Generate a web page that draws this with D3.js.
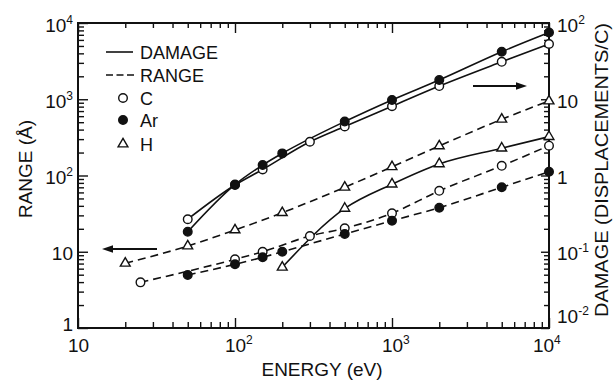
<!DOCTYPE html>
<html>
<head>
<meta charset="utf-8">
<script src="https://cdn.jsdelivr.net/npm/d3@7"></script>
<style>
  body { margin: 0; background: #fff; }
  text { font-family: "Liberation Sans", Arial, sans-serif; fill: #111; }
</style>
</head>
<body>
<svg id="chart" width="613" height="381"></svg>
<script>
// ranges (Angstrom, left axis) vs energy (eV)
const cRangeE = [25, 100, 150, 300, 500, 1000, 2000, 5000, 10000]
const cRange = [3.97, 7.96, 10.0, 16.1, 20.3, 32, 63, 134, 246]
const arRangeE = [50, 100, 150, 200, 500, 1000, 2000, 5000, 10000]
const arRange = [4.95, 6.85, 8.46, 10.0, 17.1, 25.5, 37.8, 70, 112]
const hRangeE = [20, 50, 100, 200, 500, 1000, 2000, 5000, 10000]
const hRange = [7.06, 11.9, 19.3, 32.5, 70, 130, 244, 546, 948]

// damage (displacements/C, right axis) vs energy (eV)
const cDamageE = [50, 100, 150, 300, 500, 1000, 2000, 5000, 10000]
const cDamage = [0.267, 0.75, 1.2, 2.77, 4.4, 8.1, 14.9, 31, 53]
const arDamageE = [50, 100, 150, 200, 500, 1000, 2000, 5000, 10000]
const arDamage = [0.183, 0.76, 1.37, 1.95, 5.1, 9.8, 17.9, 42, 75]
const hDamageE = [200, 500, 1000, 2000, 5000, 10000]
const hDamage = [0.0625, 0.37, 0.77, 1.42, 2.28, 3.23]

const xMajor = [10, 100, 1000, 10000]
const leftMajor = [1, 10, 100, 1000, 10000]
const rightMajor = [0.01, 0.1, 1, 10, 100]

const legendItems = ["C", "Ar", "H"]

const svg = d3.select("#chart")
const plotLeft = 78, plotRight = 549, plotTop = 23, plotBottom = 328

const x = d3.scaleLog().domain([10, 1e4]).range([plotLeft, plotRight])
const yL = d3.scaleLog().domain([1, 1e4]).range([plotBottom, plotTop])
const yR = d3.scaleLog().domain([1e-2, 1e2]).range([plotBottom, plotTop])

const isMajor = v => Math.abs(Math.log10(v) - Math.round(Math.log10(v))) < 1e-9

// tick label as 10 with a superscript exponent
function powLabel(sel, anchor) {
    sel.each(function (v) {
        const t = d3.select(this)
        const e = Math.round(Math.log10(v))
        t.text(null).attr("dy", null)
        if (e === 0) { t.append("tspan").text("1"); return }
        const base = t.append("tspan").text("10")
        if (e !== 1) {
            t.append("tspan").attr("dy", -8).attr("font-size", 12).text(e)
        }
        if (anchor === "center") {
            const w = base.node().getComputedTextLength()
            t.attr("text-anchor", "start").attr("x", -w / 2 - (e === 4 ? 6 : 0))
        }
    })
}

// vertical baseline offset of y-axis labels: the bottom ones sit a bit higher
const labelShift = (v, lowest) => v === lowest ? (lowest === 1 ? 2 : -6) : 8

function styleAxis(g) {
    g.select(".domain").remove()
    g.selectAll(".tick line").attr("stroke", "#111").attr("stroke-width", 1.4)
    g.selectAll("text").attr("font-size", 19).attr("font-family", '"Liberation Sans", Arial, sans-serif').attr("fill", "#111")
}

// bottom axis
svg.append("g").attr("transform", `translate(0,${plotBottom})`)
    .call(d3.axisBottom(x).tickValues(x.ticks().filter(v => !isMajor(v))).tickSize(-6).tickFormat(""))
    .call(styleAxis)
svg.append("g").attr("transform", `translate(0,${plotBottom})`)
    .call(d3.axisBottom(x).tickValues(xMajor).tickSize(-10).tickPadding(10))
    .call(styleAxis)
    .call(g => g.selectAll("text").attr("y", 24).call(powLabel, "center"))

// top axis
svg.append("g").attr("transform", `translate(0,${plotTop})`)
    .call(d3.axisTop(x).tickValues(x.ticks().filter(v => !isMajor(v))).tickSize(-5).tickFormat(""))
    .call(styleAxis)
svg.append("g").attr("transform", `translate(0,${plotTop})`)
    .call(d3.axisTop(x).tickValues(xMajor).tickSize(-10).tickFormat(""))
    .call(styleAxis)

// left axis
svg.append("g").attr("transform", `translate(${plotLeft},0)`)
    .call(d3.axisLeft(yL).tickValues(yL.ticks().filter(v => !isMajor(v))).tickSize(-6).tickFormat(""))
    .call(styleAxis)
svg.append("g").attr("transform", `translate(${plotLeft},0)`)
    .call(d3.axisLeft(yL).tickValues(leftMajor).tickSize(-10).tickPadding(5))
    .call(styleAxis)
    .call(g => g.selectAll("text").attr("y", d => labelShift(d, 1)).call(powLabel, "end"))

// right axis
svg.append("g").attr("transform", `translate(${plotRight},0)`)
    .call(d3.axisRight(yR).tickValues(yR.ticks().filter(v => !isMajor(v))).tickSize(-5).tickFormat(""))
    .call(styleAxis)
svg.append("g").attr("transform", `translate(${plotRight},0)`)
    .call(d3.axisRight(yR).tickValues(rightMajor).tickSize(-8).tickPadding(8))
    .call(styleAxis)
    .call(g => g.selectAll("text").attr("y", d => labelShift(d, 0.01)).call(powLabel, "start"))

// frame
svg.append("rect")
    .attr("x", plotLeft).attr("y", plotTop)
    .attr("width", plotRight - plotLeft).attr("height", plotBottom - plotTop)
    .attr("fill", "none").attr("stroke", "#111").attr("stroke-width", 2)

// series
const series = [
    { e: cRangeE, v: cRange, y: yL, dash: true, mark: "open" },
    { e: arRangeE, v: arRange, y: yL, dash: true, mark: "filled" },
    { e: hRangeE, v: hRange, y: yL, dash: true, mark: "tri" },
    { e: hDamageE, v: hDamage, y: yR, dash: false, mark: "tri" },
    { e: cDamageE, v: cDamage, y: yR, dash: false, mark: "open" },
    { e: arDamageE, v: arDamage, y: yR, dash: false, mark: "filled" },
]

const triangle = d3.symbol().type(d3.symbolTriangle).size(42)

function drawMark(g, kind, px, py) {
    if (kind === "tri") {
        g.append("path").attr("d", triangle())
            .attr("transform", `translate(${px},${py})`)
            .attr("fill", "#fff").attr("stroke", "#111").attr("stroke-width", 1.4)
    } else {
        g.append("circle").attr("cx", px).attr("cy", py).attr("r", 4.3)
            .attr("fill", kind === "filled" ? "#111" : "#fff")
            .attr("stroke", "#111").attr("stroke-width", 1.4)
    }
}

const lines = svg.append("g").attr("fill", "none").attr("stroke", "#111").attr("stroke-width", 1.6)
const marks = svg.append("g")

series.forEach(s => {
    const pts = d3.zip(s.e, s.v)
    const line = d3.line().x(d => x(d[0])).y(d => s.y(d[1])).curve(d3.curveMonotoneX)
    lines.append("path").attr("d", line(pts))
        .attr("stroke-dasharray", s.dash ? "8,5" : null)
})
series.forEach(s => {
    d3.zip(s.e, s.v).forEach(d => drawMark(marks, s.mark, x(d[0]), s.y(d[1])))
})

// legend
const legend = svg.append("g")
legend.append("line").attr("x1", 106).attr("x2", 133).attr("y1", 52).attr("y2", 52)
    .attr("stroke", "#111").attr("stroke-width", 1.6)
legend.append("line").attr("x1", 106).attr("x2", 134).attr("y1", 75).attr("y2", 75)
    .attr("stroke", "#111").attr("stroke-width", 1.6).attr("stroke-dasharray", "7,3.5")
legend.append("text").attr("x", 140).attr("y", 58.5).attr("font-size", 18).text("DAMAGE")
legend.append("text").attr("x", 140).attr("y", 81.5).attr("font-size", 18).text("RANGE")
const legendY = [98, 120, 144]
const legendMarks = ["open", "filled", "tri"]
legendItems.forEach((name, i) => {
    drawMark(legend, legendMarks[i], 123, legendY[i])
    legend.append("text").attr("x", 140).attr("y", legendY[i] + 6.5).attr("font-size", 18).text(name)
})

// arrows
function arrow(x1, x2, yy) {
    const dir = Math.sign(x2 - x1)
    svg.append("line").attr("x1", x1).attr("x2", x2 - dir * 8).attr("y1", yy).attr("y2", yy)
        .attr("stroke", "#111").attr("stroke-width", 1.8)
    svg.append("path")
        .attr("d", `M${x2},${yy} L${x2 - dir * 11},${yy - 3.8} L${x2 - dir * 11},${yy + 3.8} Z`)
        .attr("fill", "#111")
}
arrow(157, 102, 249)
arrow(473, 527, 86)

// axis titles
svg.append("text").attr("x", 322).attr("y", 376).attr("text-anchor", "middle")
    .attr("font-size", 19).text("ENERGY (eV)")
svg.append("text").attr("transform", "translate(32,169) rotate(-90)")
    .attr("text-anchor", "middle").attr("font-size", 19).text("RANGE (Å)")
svg.append("text").attr("transform", "translate(608,170) rotate(-90)")
    .attr("text-anchor", "middle").attr("font-size", 18.5)
    .attr("textLength", 294).attr("lengthAdjust", "spacingAndGlyphs")
    .text("DAMAGE (DISPLACEMENTS/C)")
</script>
</body>
</html>
